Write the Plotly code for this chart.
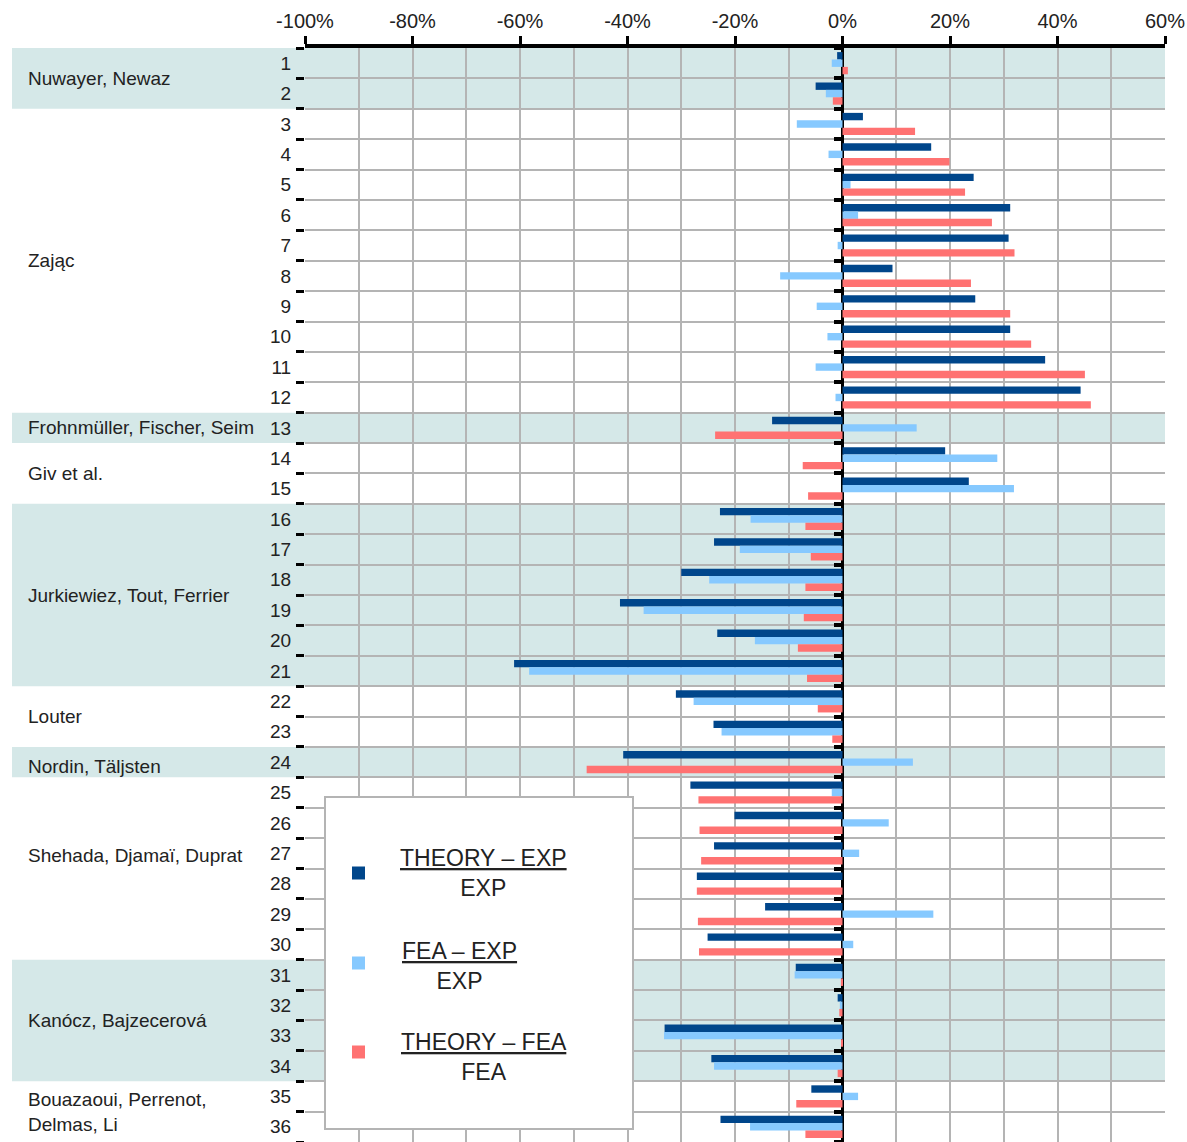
import plotly.graph_objects as go

# Specimen numbers (one row per tested beam)
rows = list(range(1, 37))

# Relative differences in percent
theory_exp = [-1.0, -5.0, 3.8, 16.5, 24.4, 31.2, 30.9, 9.3, 24.7, 31.2, 37.7, 44.3,
              -13.1, 19.1, 23.5,
              -22.8, -23.9, -30.0, -41.4, -23.3, -61.1,
              -31.0, -24.0, -40.8,
              -28.3, -20.1, -23.9, -27.1, -14.4, -25.1,
              -8.7, -0.9, -33.1, -24.4,
              -5.8, -22.7]
fea_exp = [-2.0, -3.1, -8.5, -2.6, 1.5, 2.9, -0.9, -11.6, -4.8, -2.8, -5.0, -1.3,
           13.8, 28.8, 31.9,
           -17.1, -19.1, -24.8, -37.0, -16.3, -58.3,
           -27.7, -22.5, 13.1,
           -2.0, 8.6, 3.1, 0.0, 16.9, 2.0,
           -8.9, -0.5, -33.2, -23.9,
           2.9, -17.2]
theory_fea = [1.0, -1.8, 13.5, 19.9, 22.8, 27.8, 32.0, 23.9, 31.2, 35.1, 45.1, 46.2,
              -23.7, -7.4, -6.4,
              -6.9, -5.9, -6.9, -7.2, -8.3, -6.6,
              -4.6, -1.9, -47.6,
              -26.8, -26.6, -26.3, -27.1, -26.9, -26.7,
              -0.3, -0.6, -0.2, -0.9,
              -8.6, -6.9]

series_names = ["THEORY – EXP", "FEA – EXP", "THEORY – FEA"]
series_denoms = ["EXP", "EXP", "FEA"]

# Research groups and the specimen rows they cover
groups = ["Nuwayer, Newaz", "Zając", "Frohnmüller, Fischer, Seim", "Giv et al.",
          "Jurkiewiez, Tout, Ferrier", "Louter", "Nordin, Täljsten",
          "Shehada, Djamaï, Duprat", "Kanócz, Bajzecerová",
          "Bouazaoui, Perrenot,<br>Delmas, Li"]
group_first = [1, 3, 13, 14, 16, 22, 24, 25, 31, 35]
group_last = [2, 12, 13, 15, 21, 23, 24, 30, 34, 36]

x_ticks = [-100, -80, -60, -40, -20, 0, 20, 40, 60]

# ---- styling ----
W, H = 1187, 1142
ML, MR, MT, MB = 305, 22, 48, 0
PW, PH = W - ML - MR, H - MT - MB
FONT = "Liberation Sans, Arial, sans-serif"
TXT = "#222222"
GRID = "#b4b4b4"
SHADE = "#d5e8e8"
colors = ["#00468b", "#86c9ff", "#ff7272"]


def px_x(x):
    return (x - ML) / PW


def px_y(y):
    return (H - MB - y) / PH


fig = go.Figure()
for name, vals, col in zip(series_names, [theory_exp, fea_exp, theory_fea], colors):
    fig.add_trace(go.Bar(y=rows, x=vals, orientation="h", name=name,
                         marker=dict(color=col, line=dict(width=0)),
                         showlegend=False))

# helper traces so the extra tick axes get drawn
for ax in ["y2", "y3"]:
    fig.add_trace(go.Scatter(x=[None], y=[None], yaxis=ax, showlegend=False,
                             hoverinfo="skip"))

y_range = [36.5, 0.5]
bounds = [r - 0.5 for r in rows] + [36.5]

fig.update_layout(
    width=W, height=H,
    margin=dict(l=ML, r=MR, t=MT, b=MB, pad=0),
    paper_bgcolor="white", plot_bgcolor="rgba(0,0,0,0)",
    barmode="group", bargap=0.27, bargroupgap=0.0,
    font=dict(family=FONT, color=TXT),
    xaxis=dict(range=[-100, 60], side="top", tickmode="array", tickvals=x_ticks,
               ticktext=[f"{v}%" for v in x_ticks], ticks="outside", ticklen=8,
               tickwidth=3, tickcolor="black", showline=True, linewidth=4,
               linecolor="black", showgrid=True, gridcolor=GRID, gridwidth=2,
               minor=dict(tickmode="linear", tick0=-100, dtick=10, showgrid=True,
                          gridcolor=GRID, gridwidth=2, ticks=""),
               zeroline=True, zerolinecolor="black", zerolinewidth=3,
               tickfont=dict(size=20, color=TXT), fixedrange=True),
    yaxis=dict(range=y_range, tickmode="array", tickvals=rows,
               ticktext=[str(r) for r in rows], ticks="outside", ticklen=9,
               tickcolor="rgba(0,0,0,0)", showgrid=False, zeroline=False,
               showline=False, tickfont=dict(size=19, color=TXT), fixedrange=True),
    yaxis2=dict(range=y_range, overlaying="y", side="left", tickmode="array",
                tickvals=bounds, ticks="outside", ticklen=8, tickwidth=3,
                tickcolor="black", showticklabels=False, showgrid=True,
                gridcolor=GRID, gridwidth=2, zeroline=False, showline=False,
                fixedrange=True),
    yaxis3=dict(range=y_range, overlaying="y", anchor="free", position=100 / 160,
                side="left", tickmode="array", tickvals=bounds, ticks="outside",
                ticklen=9, tickwidth=4, tickcolor="black", showticklabels=False,
                showgrid=False, zeroline=False, showline=False, fixedrange=True),
)

shapes = []
annotations = []

# alternating shaded bands behind every other research group
for i, (g, a, b) in enumerate(zip(groups, group_first, group_last)):
    if i % 2 == 0:
        shapes.append(dict(type="rect", xref="paper", yref="y", x0=px_x(12), x1=1,
                           y0=a - 0.5, y1=b + 0.5, fillcolor=SHADE, line_width=0,
                           layer="below"))
    y_mid = (a + b) / 2
    if g.startswith("Shehada"):
        y_mid -= 0.42
    if g.startswith("Nordin"):
        y_mid += 0.15
    annotations.append(dict(text=g, xref="paper", yref="y", x=px_x(26), y=y_mid,
                            xanchor="left", yanchor="middle", align="left",
                            showarrow=False, font=dict(size=19, color=TXT)))

# legend box with fraction-style labels
shapes.append(dict(type="rect", xref="paper", yref="paper", x0=px_x(325), x1=px_x(633),
                   y0=px_y(1129), y1=px_y(797), fillcolor="white",
                   line=dict(color=GRID, width=2), layer="above"))
sw_y = [873, 963, 1052]
txt_x = [483, 459, 484]
txt_y = [873, 966, 1057]
for name, den, col, sy, tx, ty in zip(series_names, series_denoms, colors, sw_y, txt_x, txt_y):
    shapes.append(dict(type="rect", xref="paper", yref="paper",
                       x0=px_x(352), x1=px_x(365), y0=px_y(sy + 6.5), y1=px_y(sy - 6.5),
                       fillcolor=col, line_width=0, layer="above"))
    annotations.append(dict(text=f"<u>{name}</u><br>{den}", xref="paper", yref="paper",
                            x=px_x(tx), y=px_y(ty), xanchor="center", yanchor="middle",
                            align="center", showarrow=False,
                            font=dict(size=23, color=TXT)))

fig.update_layout(shapes=shapes, annotations=annotations)
fig.write_html("out.html")
